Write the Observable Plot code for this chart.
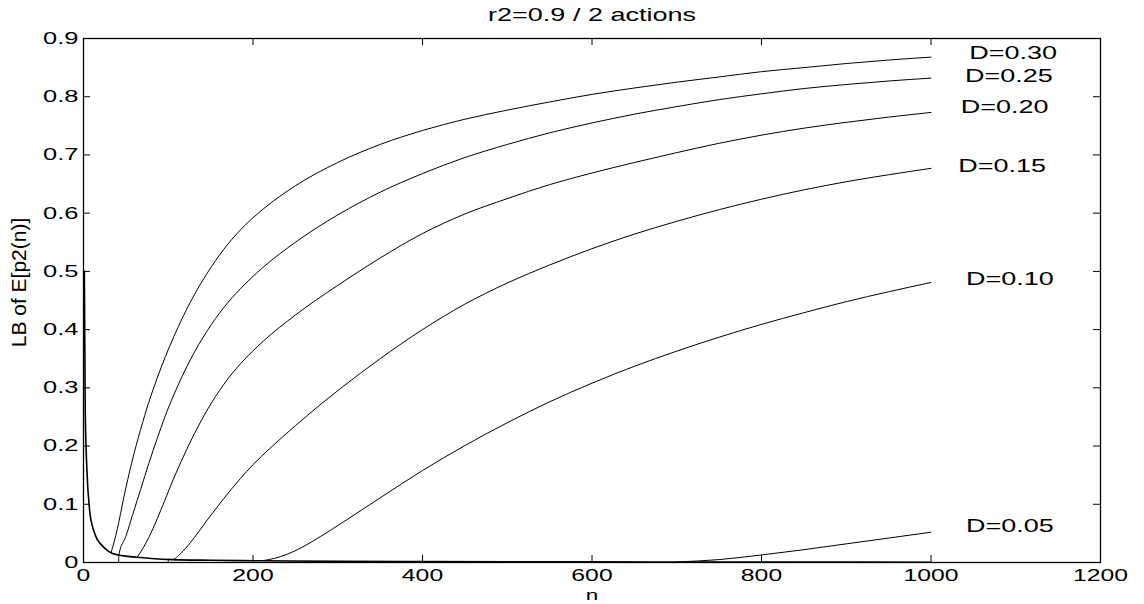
<!DOCTYPE html>
<html>
<head>
<meta charset="utf-8">
<script src="https://cdn.jsdelivr.net/npm/d3@7"></script>
<script src="https://cdn.jsdelivr.net/npm/@observablehq/plot@0.6"></script>
<style>
  html, body { margin: 0; padding: 0; background: #fff; }
  body { width: 1144px; height: 604px; overflow: hidden; font-family: "Liberation Sans", Arial, sans-serif; }
</style>
</head>
<body>
<div id="chart"></div>
<script>
// ---- data ----
const titleText = "r2=0.9 / 2 actions";
const xLabel = "n";
const yLabel = "LB of E[p2(n)]";

const xTicks = [0, 200, 400, 600, 800, 1000, 1200];
const xTickLabels = ["0", "200", "400", "600", "800", "1000", "1200"];
const yTicks = [0, 0.1, 0.2, 0.3, 0.4, 0.5, 0.6, 0.7, 0.8, 0.9];
const yTickLabels = ["0", "0.1", "0.2", "0.3", "0.4", "0.5", "0.6", "0.7", "0.8", "0.9"];

// common decreasing start shared by all curves
const envN = [1, 2, 3, 4, 5, 6, 8, 10, 12, 16, 20, 24, 28, 32, 41, 50, 63, 80, 105, 150, 211, 300, 400, 500, 600, 700, 800, 900, 1000];
const envV = [0.5, 0.27, 0.2, 0.16, 0.13, 0.11, 0.08, 0.065, 0.055, 0.04, 0.032, 0.026, 0.021, 0.017, 0.013, 0.011, 0.009, 0.007, 0.005, 0.0038, 0.003, 0.002, 0.0015, 0.0012, 0.001, 0.0009, 0.0008, 0.0006, 0.0005];

const d30N = [32.6, 40, 47.6, 57, 67.3, 77, 87, 106.6, 126, 146, 165.6, 185, 212, 250, 300, 350, 400, 449, 500, 550, 600, 650, 700, 750, 800, 850, 900, 950, 1000];
const d30V = [0.017, 0.058, 0.112, 0.172, 0.228, 0.275, 0.317, 0.388, 0.447, 0.497, 0.538, 0.571, 0.607, 0.647, 0.687, 0.718, 0.742, 0.761, 0.777, 0.791, 0.804, 0.815, 0.825, 0.834, 0.843, 0.85, 0.857, 0.863, 0.868];

const d25N = [41.5, 41.7, 50, 58, 67.3, 77, 87, 96, 106.6, 126, 146, 165.6, 185, 212, 250, 300, 350, 400, 449, 500, 550, 600, 650, 700, 750, 800, 850, 900, 950, 1000];
const d25V = [0, 0.013, 0.045, 0.082, 0.125, 0.17, 0.213, 0.25, 0.288, 0.348, 0.398, 0.438, 0.47, 0.507, 0.55, 0.597, 0.636, 0.668, 0.695, 0.718, 0.738, 0.755, 0.77, 0.783, 0.795, 0.805, 0.814, 0.821, 0.827, 0.832];

const d20N = [63.3, 70, 77, 87, 96, 106.6, 116, 126, 146, 165.6, 185, 212, 250, 300, 350, 400, 449, 500, 550, 600, 650, 700, 750, 800, 850, 900, 950, 1000];
const d20V = [0.009, 0.024, 0.043, 0.075, 0.107, 0.145, 0.176, 0.207, 0.262, 0.306, 0.341, 0.38, 0.425, 0.476, 0.523, 0.565, 0.598, 0.625, 0.649, 0.669, 0.687, 0.704, 0.72, 0.734, 0.746, 0.756, 0.765, 0.773];

const d15N = [100, 100.2, 104.6, 115, 126, 136, 146, 156, 165.6, 185, 200, 220, 250, 306, 350, 400, 449, 500, 550, 600, 650, 700, 750, 800, 850, 900, 950, 1000];
const d15V = [0, 0.0055, 0.005, 0.016, 0.034, 0.053, 0.073, 0.092, 0.11, 0.144, 0.168, 0.196, 0.235, 0.302, 0.35, 0.4, 0.443, 0.48, 0.511, 0.539, 0.564, 0.586, 0.606, 0.624, 0.64, 0.654, 0.666, 0.677];

const d10N = [211, 225, 240, 259, 280, 306, 350, 400, 449, 500, 550, 600, 650, 700, 750, 800, 850, 900, 950, 1000];
const d10V = [0.003, 0.007, 0.014, 0.027, 0.045, 0.069, 0.111, 0.158, 0.2, 0.24, 0.276, 0.308, 0.337, 0.363, 0.387, 0.409, 0.429, 0.448, 0.465, 0.481];

const d05N = [700, 750, 800, 850, 900, 950, 1000];
const d05V = [0.0009, 0.005, 0.013, 0.022, 0.032, 0.042, 0.052];

const labelT = ["D=0.30", "D=0.25", "D=0.20", "D=0.15", "D=0.10", "D=0.05"];
const labelN = [1097, 1092, 1087, 1084, 1093, 1093];
const labelV = [0.875, 0.836, 0.782, 0.680, 0.486, 0.062];

// ---- build tables ----
const toRows = (ns, vs, key) => ns.map((n, i) => ({n, v: vs[i], key}));
const envelope = toRows(envN, envV, "env");
const curves = [
  ...toRows(d30N, d30V, "D=0.30"),
  ...toRows(d25N, d25V, "D=0.25"),
  ...toRows(d20N, d20V, "D=0.20"),
  ...toRows(d15N, d15V, "D=0.15"),
  ...toRows(d10N, d10V, "D=0.10"),
  ...toRows(d05N, d05V, "D=0.05")
];
const labels = labelT.map((t, i) => ({t, n: labelN[i], v: labelV[i]}));

const W = 1144, H = 604;
const mL = 83, mR = 44, mT = 38, mB = 42;
const plotW = W - mL - mR, plotH = H - mT - mB;
const tick = 7;

const chart = Plot.plot({
  width: W,
  height: H,
  marginLeft: mL,
  marginRight: mR,
  marginTop: mT,
  marginBottom: mB,
  style: {fontFamily: "'Liberation Sans', Arial, sans-serif", fontSize: "17px", color: "#000", background: "#fff"},
  x: {domain: [0, 1200], ticks: xTicks},
  y: {domain: [0, 0.9], ticks: yTicks},
  marks: [
    // tick labels
    Plot.axisX(xTicks, {anchor: "bottom", tickSize: 0, tickPadding: 7, fontSize: 16.5, tickFormat: d => xTickLabels[xTicks.indexOf(d)], label: null}),
    Plot.axisY(yTicks, {anchor: "left", tickSize: 0, tickPadding: 5, tickFormat: d => yTickLabels[yTicks.indexOf(d)], label: null}),
    // inward ticks on all four sides
    Plot.tickX(xTicks, {x: d => d, insetTop: plotH - tick, stroke: "#000"}),
    Plot.tickX(xTicks, {x: d => d, insetBottom: plotH - tick, stroke: "#000"}),
    Plot.tickY(yTicks, {y: d => d, insetRight: plotW - tick, stroke: "#000"}),
    Plot.tickY(yTicks, {y: d => d, insetLeft: plotW - tick, stroke: "#000"}),
    // curves
    Plot.line(envelope, {x: "n", y: "v", stroke: "#000", strokeWidth: 1.6, curve: "monotone-x"}),
    Plot.line(curves, {x: "n", y: "v", z: "key", stroke: "#000", strokeWidth: 1, curve: "monotone-x"}),
    Plot.frame({stroke: "#000", strokeWidth: 1.3}),
    // curve labels
    Plot.text(labels, {x: "n", y: "v", text: "t", fontSize: 18, fill: "#000", textAnchor: "middle", lineAnchor: "middle"}),
    // title and axis labels
    Plot.text([titleText], {frameAnchor: "top", dy: -23, text: d => d, fontSize: 18, fill: "#000", textAnchor: "middle", lineAnchor: "middle"}),
    Plot.text([xLabel], {frameAnchor: "bottom", dy: 32.5, text: d => d, fontSize: 15, fill: "#000", textAnchor: "middle", lineAnchor: "middle"}),
    Plot.text([yLabel], {frameAnchor: "left", dx: -64, dy: -18, rotate: -90, text: d => d, fontSize: 21, fill: "#000", textAnchor: "middle", lineAnchor: "middle"})
  ]
});

// the reference uses horizontally wide glyphs: stretch non-rotated text about its anchor
chart.querySelectorAll("text").forEach(t => {
  const tr = t.getAttribute("transform");
  if (tr && tr.includes("rotate")) return;
  if (tr) {
    t.setAttribute("transform", tr + " scale(1.5,1)");
  } else {
    const x = +t.getAttribute("x") || 0;
    t.setAttribute("x", 0);
    t.setAttribute("transform", `translate(${x},0) scale(1.5,1)`);
  }
});

document.getElementById("chart").appendChild(chart);
</script>
</body>
</html>
